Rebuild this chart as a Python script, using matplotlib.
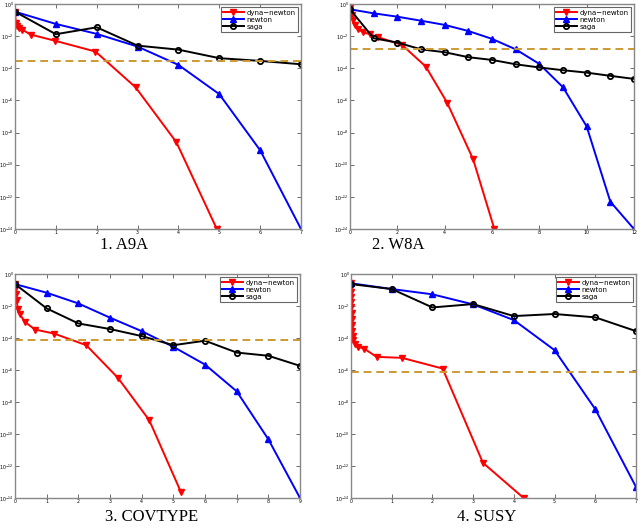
import matplotlib
matplotlib.use('Agg')
import matplotlib.pyplot as plt
import numpy as np

# exponents (log10 of the error)
a9a_dyna_x = [0, 0.02, 0.06, 0.1, 0.18, 0.38, 0.97, 1.97, 2.95, 3.95, 4.94]
a9a_dyna_y = [-0.48, -1.16, -1.37, -1.5, -1.6, -1.9, -2.28, -2.96, -5.18, -8.6, -14.0]
a9a_newton_x = [0, 1, 2, 3, 4, 5, 6, 7]
a9a_newton_y = [-0.48, -1.24, -1.86, -2.65, -3.79, -5.61, -9.1, -14.0]
a9a_saga_x = [0, 1, 2, 3, 4, 5, 6, 7]
a9a_saga_y = [-0.48, -1.88, -1.45, -2.59, -2.84, -3.37, -3.54, -3.75]
a9a_tol = -3.54

w8a_dyna_x = [0, 0.07, 0.14, 0.21, 0.35, 0.56, 0.84, 1.2, 2.2, 3.2, 4.1, 5.2, 6.1]
w8a_dyna_y = [-0.27, -0.68, -0.99, -1.3, -1.57, -1.76, -1.88, -2.07, -2.55, -3.89, -6.13, -9.65, -14.0]
w8a_newton_x = [0, 1, 2, 3, 4, 5, 6, 7, 8, 9, 10, 11, 12]
w8a_newton_y = [-0.33, -0.58, -0.79, -1.04, -1.3, -1.68, -2.17, -2.82, -3.73, -5.18, -7.62, -12.3, -14.0]
w8a_saga_x = [0, 1, 2, 3, 4, 5, 6, 7, 8, 9, 10, 11, 12]
w8a_saga_y = [-0.33, -2.13, -2.4, -2.82, -3.0, -3.31, -3.48, -3.75, -3.95, -4.12, -4.27, -4.47, -4.66]
w8a_tol = -2.82

cov_dyna_x = [0, 0.01, 0.03, 0.05, 0.09, 0.16, 0.31, 0.63, 1.23, 2.25, 3.25, 4.24, 5.24]
cov_dyna_y = [-0.63, -0.96, -1.25, -1.63, -2.21, -2.53, -2.99, -3.47, -3.72, -4.45, -6.49, -9.14, -13.63]
cov_newton_x = [0, 1, 2, 3, 4, 5, 6, 7, 8, 9]
cov_newton_y = [-0.63, -1.17, -1.84, -2.73, -3.57, -4.55, -5.66, -7.33, -10.33, -14.0]
cov_saga_x = [0, 1, 2, 3, 4, 5, 6, 7, 8, 9]
cov_saga_y = [-0.63, -2.15, -3.09, -3.44, -3.88, -4.45, -4.17, -4.91, -5.11, -5.74]
cov_tol = -4.13

susy_dyna_x = [0, 0.002, 0.004, 0.006, 0.008, 0.012, 0.016, 0.02, 0.025, 0.03, 0.04, 0.06,
               0.1, 0.17, 0.32, 0.63, 1.25, 2.25, 3.24, 4.24]
susy_dyna_y = [-0.58, -0.79, -1.1, -1.42, -1.73, -2.05, -2.46, -2.84, -3.19, -3.57, -3.88, -4.13,
               -4.38, -4.55, -4.66, -5.18, -5.24, -5.91, -11.8, -14.0]
susy_newton_x = [0, 1, 2, 3, 4, 5, 6, 7]
susy_newton_y = [-0.58, -0.94, -1.27, -1.9, -2.88, -4.76, -8.45, -13.31]
susy_saga_x = [0, 1, 2, 3, 4, 5, 6, 7]
susy_saga_y = [-0.63, -0.94, -2.09, -1.88, -2.63, -2.5, -2.71, -3.57]
susy_tol = -6.12

panels = [
    ("1. A9A", a9a_dyna_x, a9a_dyna_y, a9a_newton_x, a9a_newton_y, a9a_saga_x, a9a_saga_y, a9a_tol, 7, 1),
    ("2. W8A", w8a_dyna_x, w8a_dyna_y, w8a_newton_x, w8a_newton_y, w8a_saga_x, w8a_saga_y, w8a_tol, 12, 2),
    ("3. COVTYPE", cov_dyna_x, cov_dyna_y, cov_newton_x, cov_newton_y, cov_saga_x, cov_saga_y, cov_tol, 9, 1),
    ("4. SUSY", susy_dyna_x, susy_dyna_y, susy_newton_x, susy_newton_y, susy_saga_x, susy_saga_y, susy_tol, 7, 1),
]

# axes boxes in pixels: left, top, right, bottom ; title center x, y
boxes = [(15, 4, 301, 229, 124, 245),
         (350, 4, 634, 229, 398, 245),
         (15, 274, 300, 498, 152, 517),
         (351, 274, 636, 498, 487, 517)]

W, H = 640, 528
fig = plt.figure(figsize=(W / 100, H / 100), dpi=100)

for (title, dx, dy, nx, ny, sx, sy, tol, xmax, xstep), (l, t, r, b, tx, ty) in zip(panels, boxes):
    ax = fig.add_axes([l / W, 1 - b / H, (r - l) / W, (b - t) / H])
    ax.semilogy(dx, 10.0 ** np.array(dy), color='#ff0000', marker='v', markersize=4.2,
                linewidth=1.4, label='dyna\u2212newton')
    ax.semilogy(nx, 10.0 ** np.array(ny), color='#0000ff', marker='^', markersize=4.2,
                linewidth=1.4, label='newton')
    ax.semilogy(sx, 10.0 ** np.array(sy), color='black', marker='o', markersize=3.8,
                markerfacecolor='none', markeredgewidth=1.3, linewidth=1.4, label='saga')
    ax.axhline(10.0 ** tol, color='#cc9933', linestyle='--', linewidth=1.4, dashes=(4, 2.5))
    ax.set_xlim(0, xmax)
    ax.set_ylim(1e-14, 1)
    ax.set_xticks(np.arange(0, xmax + 1, xstep))
    ax.set_yticks([10.0 ** e for e in range(-14, 1, 2)])
    ax.set_yticklabels(['$10^{%d}$' % e for e in range(-14, 1, 2)])
    ax.yaxis.set_minor_locator(matplotlib.ticker.NullLocator())
    ax.tick_params(direction='in', top=True, right=True, labelsize=3.4, length=3,
                   width=0.6, color='#555555', pad=1)
    for sp in ax.spines.values():
        sp.set_color('#888888')
        sp.set_linewidth(1.0)
    leg = ax.legend(loc='upper right', fontsize=5, handlelength=3.0, borderpad=0.3,
                    labelspacing=0.15, handletextpad=0.4, fancybox=False,
                    framealpha=1, edgecolor='#666666', borderaxespad=0.5)
    leg.get_frame().set_linewidth(0.8)
    fig.text(tx / W, 1 - ty / H, title, ha='center', va='center',
             fontsize=12, family='Liberation Serif')

fig.savefig('out.png', dpi=100)
